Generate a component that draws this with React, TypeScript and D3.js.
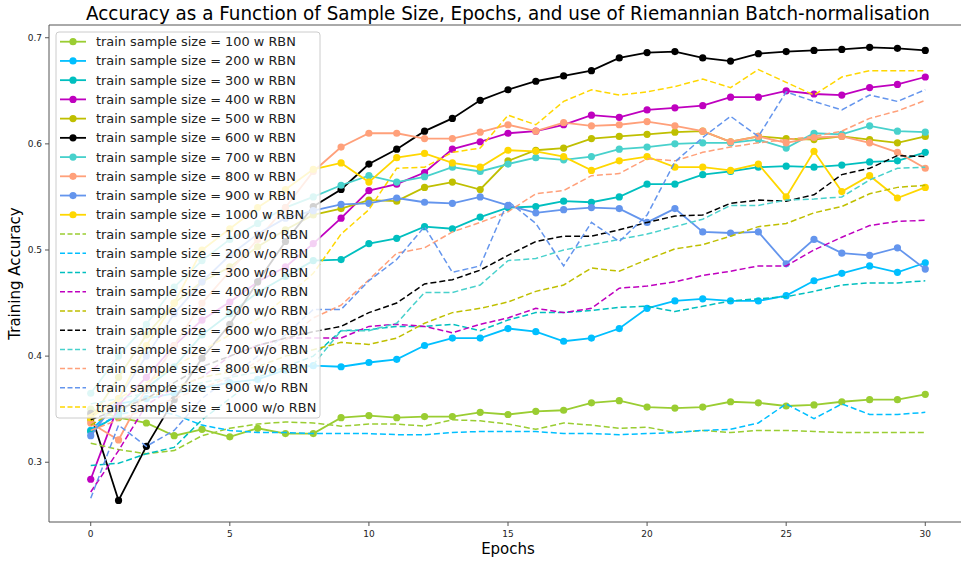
import * as d3 from 'd3';
import React from 'react';

const width = 961;
const height = 561;
const margin = { top: 25, right: -6, bottom: 39, left: 49 };

const epochs = [0, 1, 2, 3, 4, 5, 6, 7, 8, 9, 10, 11, 12, 13, 14, 15, 16, 17, 18, 19, 20, 21, 22, 23, 24, 25, 26, 27, 28, 29, 30];
const sampleSizes = [100, 200, 300, 400, 500, 600, 700, 800, 900, 1000];
const colors = ['#9acd32', '#00bfff', '#00bfbf', '#bf00bf', '#bfbf00', '#000000', '#48d1cc', '#ffa07a', '#6495ed', '#ffd700'];
const xTicks = [0, 5, 10, 15, 20, 25, 30];
const yTicks = [0.3, 0.4, 0.5, 0.6, 0.7];

// with Riemannian batch-norm (solid + markers)
const acc100w = [0.350, 0.342, 0.337, 0.325, 0.331, 0.324, 0.332, 0.327, 0.327, 0.342, 0.344, 0.342, 0.343, 0.343, 0.347, 0.345, 0.348, 0.349, 0.356, 0.358, 0.352, 0.351, 0.352, 0.357, 0.356, 0.353, 0.354, 0.357, 0.359, 0.359, 0.364];
const acc200w = [0.330, 0.355, 0.360, 0.365, 0.370, 0.375, 0.378, 0.387, 0.391, 0.390, 0.394, 0.397, 0.410, 0.417, 0.417, 0.426, 0.423, 0.414, 0.417, 0.426, 0.445, 0.452, 0.454, 0.452, 0.452, 0.457, 0.471, 0.478, 0.485, 0.479, 0.488];
const acc300w = [0.329, 0.345, 0.370, 0.390, 0.420, 0.440, 0.460, 0.475, 0.490, 0.491, 0.506, 0.511, 0.522, 0.520, 0.531, 0.540, 0.541, 0.546, 0.545, 0.550, 0.562, 0.562, 0.571, 0.574, 0.578, 0.579, 0.578, 0.580, 0.583, 0.584, 0.592];
const acc400w = [0.284, 0.354, 0.380, 0.410, 0.434, 0.451, 0.470, 0.484, 0.506, 0.530, 0.556, 0.562, 0.573, 0.595, 0.602, 0.610, 0.612, 0.618, 0.627, 0.625, 0.632, 0.634, 0.636, 0.644, 0.644, 0.650, 0.647, 0.646, 0.653, 0.656, 0.663];
const acc500w = [0.340, 0.380, 0.420, 0.450, 0.470, 0.484, 0.503, 0.519, 0.533, 0.539, 0.547, 0.546, 0.559, 0.564, 0.557, 0.584, 0.594, 0.596, 0.605, 0.607, 0.609, 0.611, 0.612, 0.602, 0.607, 0.605, 0.604, 0.607, 0.604, 0.601, 0.607];
const acc600w = [0.346, 0.264, 0.315, 0.359, 0.398, 0.430, 0.470, 0.508, 0.541, 0.557, 0.581, 0.595, 0.612, 0.624, 0.641, 0.651, 0.659, 0.664, 0.669, 0.681, 0.686, 0.687, 0.681, 0.678, 0.685, 0.687, 0.688, 0.689, 0.691, 0.690, 0.688];
const acc700w = [0.365, 0.400, 0.430, 0.465, 0.490, 0.510, 0.525, 0.540, 0.550, 0.561, 0.570, 0.564, 0.569, 0.578, 0.574, 0.581, 0.587, 0.585, 0.588, 0.595, 0.597, 0.600, 0.601, 0.601, 0.604, 0.596, 0.610, 0.609, 0.617, 0.612, 0.611];
const acc800w = [0.337, 0.321, 0.370, 0.410, 0.450, 0.480, 0.510, 0.540, 0.574, 0.597, 0.610, 0.610, 0.605, 0.605, 0.611, 0.618, 0.612, 0.620, 0.617, 0.618, 0.621, 0.617, 0.612, 0.602, 0.607, 0.601, 0.606, 0.607, 0.601, 0.592, 0.577];
const acc900w = [0.325, 0.360, 0.400, 0.440, 0.470, 0.495, 0.515, 0.530, 0.537, 0.543, 0.544, 0.549, 0.545, 0.544, 0.550, 0.542, 0.535, 0.538, 0.540, 0.539, 0.526, 0.539, 0.517, 0.516, 0.517, 0.487, 0.510, 0.497, 0.495, 0.502, 0.482];
const acc1000w = [0.342, 0.360, 0.410, 0.450, 0.500, 0.520, 0.540, 0.557, 0.576, 0.582, 0.564, 0.587, 0.591, 0.582, 0.578, 0.594, 0.593, 0.588, 0.575, 0.584, 0.588, 0.578, 0.578, 0.575, 0.581, 0.550, 0.593, 0.555, 0.570, 0.549, 0.559];

// without Riemannian batch-norm (dashed)
const acc100wo = [0.318, 0.312, 0.308, 0.311, 0.325, 0.332, 0.336, 0.338, 0.337, 0.334, 0.336, 0.336, 0.334, 0.340, 0.339, 0.336, 0.331, 0.337, 0.335, 0.332, 0.333, 0.328, 0.330, 0.328, 0.330, 0.330, 0.329, 0.328, 0.328, 0.328, 0.328];
const acc200wo = [0.330, 0.345, 0.350, 0.345, 0.335, 0.330, 0.328, 0.328, 0.327, 0.327, 0.327, 0.326, 0.326, 0.328, 0.329, 0.329, 0.329, 0.327, 0.327, 0.326, 0.327, 0.328, 0.330, 0.331, 0.337, 0.355, 0.341, 0.355, 0.345, 0.345, 0.347];
const acc300wo = [0.297, 0.299, 0.308, 0.314, 0.340, 0.360, 0.380, 0.390, 0.400, 0.424, 0.425, 0.428, 0.428, 0.430, 0.424, 0.434, 0.441, 0.441, 0.443, 0.446, 0.447, 0.442, 0.447, 0.452, 0.454, 0.456, 0.461, 0.467, 0.469, 0.469, 0.471];
const acc400wo = [0.272, 0.311, 0.354, 0.370, 0.380, 0.400, 0.410, 0.417, 0.417, 0.417, 0.428, 0.430, 0.428, 0.422, 0.430, 0.436, 0.445, 0.441, 0.445, 0.464, 0.466, 0.470, 0.476, 0.480, 0.485, 0.485, 0.500, 0.512, 0.523, 0.527, 0.528];
const acc500wo = [0.335, 0.350, 0.360, 0.370, 0.380, 0.385, 0.390, 0.400, 0.406, 0.413, 0.411, 0.417, 0.431, 0.441, 0.445, 0.451, 0.461, 0.467, 0.483, 0.480, 0.491, 0.501, 0.505, 0.513, 0.522, 0.525, 0.535, 0.541, 0.553, 0.559, 0.561];
const acc600wo = [0.340, 0.350, 0.360, 0.375, 0.390, 0.400, 0.410, 0.417, 0.423, 0.428, 0.441, 0.450, 0.468, 0.472, 0.481, 0.495, 0.508, 0.513, 0.513, 0.519, 0.526, 0.532, 0.533, 0.544, 0.547, 0.546, 0.552, 0.571, 0.577, 0.589, 0.588];
const acc700wo = [0.355, 0.360, 0.365, 0.370, 0.375, 0.380, 0.385, 0.388, 0.392, 0.424, 0.424, 0.431, 0.460, 0.460, 0.467, 0.490, 0.492, 0.500, 0.505, 0.510, 0.515, 0.522, 0.529, 0.542, 0.542, 0.547, 0.548, 0.550, 0.566, 0.577, 0.578];
const acc800wo = [0.330, 0.340, 0.350, 0.360, 0.370, 0.380, 0.395, 0.415, 0.436, 0.448, 0.472, 0.497, 0.502, 0.517, 0.526, 0.536, 0.553, 0.556, 0.570, 0.572, 0.586, 0.584, 0.592, 0.597, 0.601, 0.604, 0.607, 0.612, 0.624, 0.631, 0.641];
const acc900wo = [0.266, 0.335, 0.315, 0.330, 0.360, 0.380, 0.400, 0.420, 0.444, 0.444, 0.471, 0.491, 0.522, 0.479, 0.485, 0.546, 0.525, 0.485, 0.526, 0.508, 0.533, 0.583, 0.606, 0.626, 0.607, 0.649, 0.640, 0.632, 0.646, 0.640, 0.651];
const acc1000wo = [0.345, 0.360, 0.375, 0.390, 0.405, 0.420, 0.435, 0.455, 0.478, 0.515, 0.538, 0.577, 0.578, 0.592, 0.596, 0.627, 0.618, 0.640, 0.651, 0.646, 0.649, 0.654, 0.661, 0.653, 0.670, 0.658, 0.646, 0.663, 0.669, 0.669, 0.669];

const withRBN = [acc100w, acc200w, acc300w, acc400w, acc500w, acc600w, acc700w, acc800w, acc900w, acc1000w];
const withoutRBN = [acc100wo, acc200wo, acc300wo, acc400wo, acc500wo, acc600wo, acc700wo, acc800wo, acc900wo, acc1000wo];

const series = [
  ...withRBN.map((values, i) => ({ label: `train sample size = ${sampleSizes[i]} w RBN`, color: colors[i], values, dashed: false })),
  ...withoutRBN.map((values, i) => ({ label: `train sample size = ${sampleSizes[i]} w/o RBN`, color: colors[i], values, dashed: true }))
];

const font = 'DejaVu Sans, sans-serif';

export default function App() {
  const x = d3.scaleLinear().domain([-1.5, 31.5]).range([margin.left, width - margin.right]);
  const y = d3.scaleLinear().domain([0.2437, 0.712]).range([height - margin.bottom, margin.top]);
  const line = d3
    .line<number>()
    .x((d, i) => x(epochs[i]))
    .y(d => y(d));

  const legendX = 56;
  const legendY = 32;
  const rowH = 19.23;

  return (
    <div style={{ position: 'absolute', left: 0, top: 0 }}>
      <svg width={width} height={height} style={{ display: 'block', background: '#fff' }}>
        <text x={508} y={20} textAnchor="middle" fontFamily={font} fontSize={19} textLength={844} lengthAdjust="spacingAndGlyphs" fill="#000">
          Accuracy as a Function of Sample Size, Epochs, and use of Riemannian Batch-normalisation
        </text>

        {series.map(s => (
          <g key={s.label}>
            <path
              d={line(s.values) || ''}
              fill="none"
              stroke={s.color}
              strokeWidth={s.dashed ? 1.5 : 1.8}
              strokeDasharray={s.dashed ? '6,3' : undefined}
            />
            {!s.dashed &&
              s.values.map((v, i) => <circle key={i} cx={x(epochs[i])} cy={y(v)} r={3.6} fill={s.color} />)}
          </g>
        ))}

        {/* spines */}
        <g stroke="#555" strokeWidth={1} fill="none">
          <line x1={margin.left} x2={width} y1={margin.top} y2={margin.top} />
          <line x1={margin.left} x2={margin.left} y1={margin.top} y2={height - margin.bottom} />
          <line x1={margin.left} x2={width} y1={height - margin.bottom} y2={height - margin.bottom} />
        </g>

        {xTicks.map(t => (
          <g key={t} transform={`translate(${x(t)},${height - margin.bottom})`}>
            <line y2={4} stroke="#555" />
            <text y={15} textAnchor="middle" fontFamily={font} fontSize={9} fill="#222">
              {t}
            </text>
          </g>
        ))}
        {yTicks.map(t => (
          <g key={t} transform={`translate(${margin.left},${y(t)})`}>
            <line x2={-4} stroke="#555" />
            <text x={-7} dy="0.32em" textAnchor="end" fontFamily={font} fontSize={9} fill="#222">
              {t.toFixed(1)}
            </text>
          </g>
        ))}

        <text x={508} y={554} textAnchor="middle" fontFamily={font} fontSize={15} fill="#000">
          Epochs
        </text>
        <text transform={`translate(20,${(margin.top + height - margin.bottom) / 2}) rotate(-90)`} textAnchor="middle" fontFamily={font} fontSize={15} fill="#000">
          Training Accuracy
        </text>

        {/* legend */}
        <g>
          <rect x={legendX} y={legendY} width={264} height={386} rx={3} fill="#fff" fillOpacity={0.82} stroke="#ccc" />
          {series.map((s, i) => {
            const cy = legendY + 9.7 + i * rowH;
            return (
              <g key={s.label}>
                <line
                  x1={legendX + 4}
                  x2={legendX + 30}
                  y1={cy}
                  y2={cy}
                  stroke={s.color}
                  strokeWidth={s.dashed ? 1.5 : 1.8}
                  strokeDasharray={s.dashed ? '5,2.5' : undefined}
                />
                {!s.dashed && <circle cx={legendX + 17} cy={cy} r={3.6} fill={s.color} />}
                <text x={legendX + 40} y={cy} dy="0.35em" fontFamily={font} fontSize={12.9} fill="#222">
                  {s.label}
                </text>
              </g>
            );
          })}
        </g>
      </svg>
    </div>
  );
}
